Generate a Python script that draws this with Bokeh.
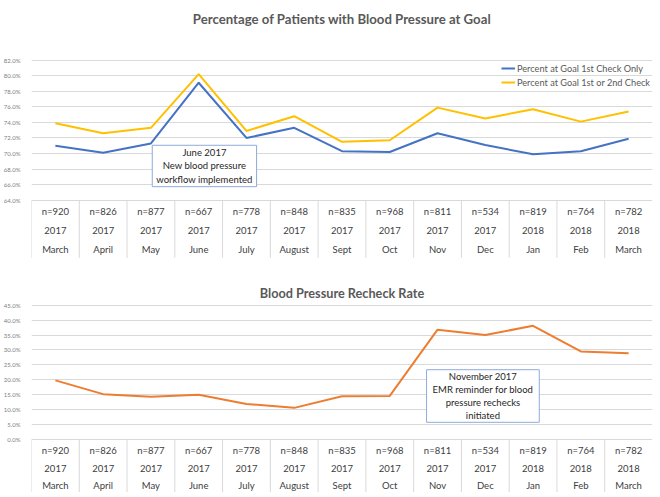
from bokeh.plotting import figure
from bokeh.models import (FixedTicker, CustomJSTickFormatter, Label, Legend, LegendItem,
                          Range1d)
from bokeh.layouts import column
from bokeh.embed import file_html
from bokeh.resources import INLINE
from bokeh.core.properties import value

# ---------------- data ----------------
months = ["March", "April", "May", "June", "July", "August", "Sept", "Oct",
          "Nov", "Dec", "Jan", "Feb", "March"]
years = ["2017", "2017", "2017", "2017", "2017", "2017", "2017", "2017",
         "2017", "2017", "2018", "2018", "2018"]
n_counts = [920, 826, 877, 667, 778, 848, 835, 968, 811, 534, 819, 764, 782]
goal_first_only = [71.0, 70.1, 71.3, 79.1, 72.0, 73.3, 70.3, 70.2, 72.6, 71.1, 69.9, 70.3, 71.9]
goal_first_or_second = [73.9, 72.6, 73.3, 80.2, 72.9, 74.8, 71.5, 71.7, 75.9, 74.5, 75.7, 74.1, 75.4]
recheck_rate = [19.8, 15.2, 14.3, 15.0, 11.9, 10.6, 14.5, 14.6, 36.8, 35.0, 38.1, 29.5, 28.9]
goal_ticks = [64, 66, 68, 70, 72, 74, 76, 78, 80, 82]
recheck_ticks = [0, 5, 10, 15, 20, 25, 30, 35, 40, 45]

FONT = "Lato"
GRID = "#d9d9d9"
TXT = "#404040"

xs = [i + 0.5 for i in range(len(months))]
bounds = list(range(len(months) + 1))
n_labels = ["n=%d" % n for n in n_counts]

pct_fmt = CustomJSTickFormatter(code="return tick.toFixed(1) + '%';")


def base_fig(height, y0, y1, border_top, title, title_size, ticks):
    p = figure(width=652, height=height, output_backend="svg", toolbar_location=None,
               x_range=Range1d(0, len(months)), y_range=Range1d(y0, y1),
               x_axis_location=None, min_border_left=30, min_border_right=0,
               min_border_top=border_top, min_border_bottom=0,
               background_fill_color="white", border_fill_color="white")
    p.outline_line_color = None
    p.title.text = title
    p.title.align = "center"
    p.title.text_font = FONT
    p.title.text_font_style = "bold"
    p.title.text_font_size = title_size
    p.title.text_color = "#595959"
    p.title.standoff = 4
    p.yaxis.ticker = FixedTicker(ticks=ticks)
    p.yaxis.formatter = pct_fmt
    p.yaxis.axis_line_color = None
    p.yaxis.major_tick_line_color = None
    p.yaxis.minor_tick_line_color = None
    p.yaxis.major_label_text_font = FONT
    p.yaxis.major_label_text_font_size = "6px"
    p.yaxis.major_label_text_color = "#808080"
    p.yaxis.major_label_standoff = 5
    p.xgrid.visible = False
    p.ygrid.grid_line_color = GRID
    p.ygrid.grid_line_width = 1
    return p


def table(p, top, bottom, rows):
    p.segment(x0=bounds, y0=[top] * len(bounds), x1=bounds, y1=[bottom] * len(bounds),
              line_color=GRID, line_width=1)
    for texts, yy in zip([n_labels, years, months], rows):
        p.text(x=xs, y=[yy] * len(xs), text=texts, text_align="center",
               text_baseline="middle", text_font=value(FONT), text_font_size="9.5px",
               text_color=TXT)


# ---------------- chart 1 ----------------
p1 = base_fig(260, 56.25, 86.07, 28, "Percentage of Patients with Blood Pressure at Goal",
              "13.2px", goal_ticks)
table(p1, 64, 56.6, [62.55, 60.1, 57.66])
r_blue = p1.line(xs, goal_first_only, line_color="#4472C4", line_width=2)
r_yel = p1.line(xs, goal_first_or_second, line_color="#FFC000", line_width=2)
leg = Legend(items=[LegendItem(label="Percent at Goal 1st Check Only", renderers=[r_blue]),
                    LegendItem(label="Percent at Goal 1st or 2nd Check", renderers=[r_yel])],
             location=(470, 172), padding=0, margin=0, spacing=2,
             glyph_width=14, glyph_height=12, label_height=12, label_standoff=2,
             label_text_font=FONT, label_text_font_size="9.2px", label_text_color="#595959",
             border_line_alpha=0, background_fill_alpha=0)
p1.add_layout(leg)
p1.add_layout(Label(x=3.62, y=68.4, text="June 2017\nNew blood pressure\nworkflow implemented",
                    text_align="center", text_baseline="middle", text_font=FONT,
                    text_font_size="9.5px", text_color="#262626",
                    border_line_color="#8eaadb", border_line_width=1,
                    background_fill_color="white", padding=dict(x=4, y=2)))

# ---------------- chart 2 ----------------
p2 = base_fig(232, -17.76, 45.9, 42, "Blood Pressure Recheck Rate", "12.7px", recheck_ticks)
table(p2, 0, -17.76, [-3.69, -9.72, -15.41])
p2.line(xs, recheck_rate, line_color="#ED7D31", line_width=2)
p2.add_layout(Label(x=9.45, y=14.57,
                    text="November 2017\nEMR reminder for blood\npressure rechecks\ninitiated",
                    text_align="center", text_baseline="middle", text_font=FONT,
                    text_font_size="9.5px", text_color="#262626",
                    border_line_color="#8eaadb", border_line_width=1,
                    background_fill_color="white", padding=dict(x=6, y=1)))

layout = column(p1, p2, spacing=0)
open("out.html", "w").write(file_html(layout, INLINE))
